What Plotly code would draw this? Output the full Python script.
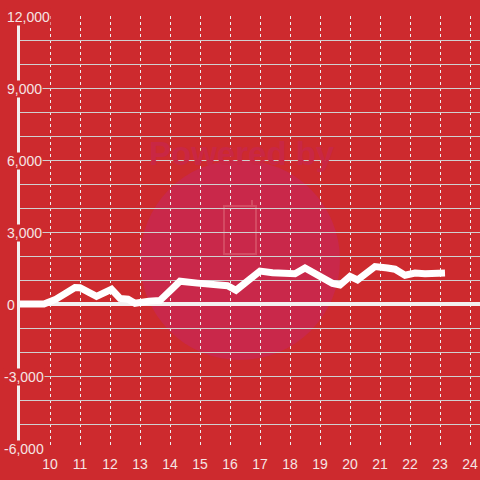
import plotly.graph_objects as go

# ---- data ----
times = ["09:00", "09:48", "10:12", "10:30", "10:50", "11:00", "11:33", "12:03",
         "12:20", "12:36", "12:50", "13:18", "13:40", "14:05", "14:20", "14:55",
         "15:25", "15:55", "16:12", "16:35", "17:00", "17:25", "17:55", "18:10",
         "18:30", "18:55", "19:25", "19:40", "20:00", "20:15", "20:50", "21:15",
         "21:30", "21:50", "22:10", "22:30", "23:00", "23:10"]
values = [0, 0, 200, 440, 690, 680, 320, 610,
          230, 200, 30, 120, 150, 650, 950, 870,
          830, 760, 570, 960, 1370, 1300, 1300, 1260,
          1500, 1220, 860, 790, 1150, 1000, 1560, 1500,
          1450, 1200, 1290, 1260, 1300, 1290]
x_ticks = list(range(10, 25))
y_tick_values = [12000, 9000, 6000, 3000, 0, -3000, -6000]
y_tick_labels = ["12,000", "9,000", "6,000", "3,000", "0", "-3,000", "-6,000"]


def to_hours(t):
    h, m = t.split(":")
    return int(h) + int(m) / 60.0


hours = [to_hours(t) for t in times]

BG = "#cd2a2e"
FONT = "Liberation Sans"
LABEL = "#f5e4e4"

fig = go.Figure()
fig.add_trace(go.Scatter(x=hours, y=values, mode="lines",
                         line=dict(color="#ffffff", width=7),
                         hoverinfo="skip", showlegend=False))

W, H = 480, 480
ML, MR, MT, MB = 20, 0, 16, 32
pw, ph = W - ML - MR, H - MT - MB


def px(xp):  # page pixel x -> paper
    return (xp - ML) / pw


def py(yp):  # page pixel y -> paper
    return (H - MB - yp) / ph


shapes = []
shapes.append(dict(type="circle", xref="paper", yref="paper",
                   x0=px(140), x1=px(340), y0=py(360), y1=py(160),
                   fillcolor="#c9284a", line=dict(width=0), layer="below"))
shapes.append(dict(type="rect", xref="paper", yref="paper",
                   x0=px(224), x1=px(256), y0=py(254), y1=py(206),
                   line=dict(color="#d44a62", width=2), fillcolor="rgba(0,0,0,0)",
                   layer="below"))
shapes.append(dict(type="line", xref="paper", yref="paper",
                   x0=px(252), x1=px(252), y0=py(206), y1=py(200),
                   line=dict(color="#d44a62", width=2), layer="below"))

annotations = [dict(text="Powered by", xref="paper", yref="paper",
                    x=px(242), y=py(133), showarrow=False,
                    font=dict(family=FONT, size=33, color="#c92744", weight="bold"))]

for v, lab in zip(y_tick_values, y_tick_labels):
    xl = 2.7 if lab.startswith("-") else 6
    annotations.append(dict(text=lab, xref="paper", yref="y", x=px(xl), y=v,
                            xanchor="left", yanchor="middle", yshift=-1,
                            showarrow=False, bgcolor=BG, borderpad=0,
                            font=dict(family=FONT, size=14, color=LABEL)))

fig.update_layout(
    width=W, height=H,
    margin=dict(l=ML, r=MR, t=MT, b=MB),
    paper_bgcolor=BG, plot_bgcolor=BG,
    shapes=shapes, annotations=annotations,
    showlegend=False,
    xaxis=dict(range=[9, 9 + pw / 30.0], tickvals=x_ticks,
               showgrid=True, gridcolor="#eeeeee", gridwidth=1, griddash="3px,3px",
               zeroline=False, showline=False, ticks="", ticklabelstandoff=6,
               tickfont=dict(family=FONT, size=14, color=LABEL)),
    yaxis=dict(range=[-6000, 12000], dtick=1000, showticklabels=False,
               showgrid=True, gridcolor="#d0d0d0", gridwidth=1,
               zeroline=True, zerolinecolor="#f3f0f0", zerolinewidth=4,
               showline=True, linecolor="#f3f0f0", linewidth=3, ticks=""),
)

fig.write_html("out.html",
               config={"displayModeBar": False},
               post_script="document.body.style.margin='0';"
                           "document.body.style.background='" + BG + "';")
